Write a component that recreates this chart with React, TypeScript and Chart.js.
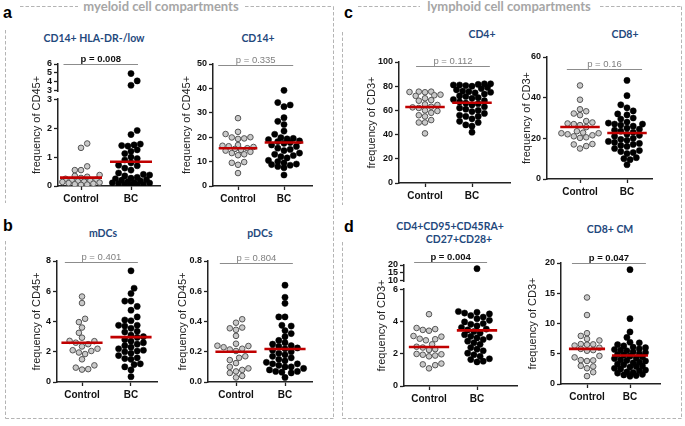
import React, { useEffect, useRef } from "react";
import { Chart, registerables } from "chart.js";
Chart.register(...registerables);

// ---------------- data ----------------
const groups = ["Control", "BC"];

// a: CD14+ HLA-DR-/low (frequency of CD45+)
const hlaControl = [1.47, 1.32, 0.68, 0.55, 0.55, 0.38, 0.35, 0.32, 0.28, 0.25, 0.22, 0.2, 0.18, 0.16, 0.15, 0.14, 0.12, 0.1, 0.08, 0.06, 0.05, 0.04];
const hlaBC = [4.9, 4.05, 3.55, 1.92, 1.78, 1.45, 1.42, 1.4, 1.38, 1.25, 1.2, 1.12, 1.0, 0.95, 0.9, 0.8, 0.72, 0.7, 0.62, 0.55, 0.45, 0.4, 0.38, 0.35, 0.3, 0.27, 0.25, 0.22, 0.2, 0.18, 0.15, 0.13, 0.11, 0.1, 0.08, 0.06, 0.05, 0.04, 0.03];
const hlaMeans = [0.29, 0.84];
const hlaTicksLow = [0, 1, 2, 3];
const hlaTicksUp = [3, 4, 5, 6];

// a: CD14+
const cd14Control = [27.8, 22.2, 21.3, 20.0, 19.9, 19.5, 19.3, 16.8, 16.5, 16.3, 16.0, 15.5, 15.2, 14.8, 14.5, 14.0, 13.5, 13.0, 12.6, 9.8, 9.5, 8.7, 5.3];
const cd14BC = [39.2, 34.2, 33.2, 32.5, 28.0, 26.5, 25.2, 22.5, 21.2, 19.8, 19.5, 19.3, 19.0, 18.5, 18.2, 17.8, 17.5, 16.8, 16.2, 15.5, 15.0, 14.5, 13.5, 13.0, 12.5, 12.0, 11.5, 10.5, 10.0, 9.5, 9.0, 8.8, 8.5, 8.0, 7.5, 4.5];
const cd14Means = [15.5, 17.8];
const cd14Ticks = [0, 10, 20, 30, 40, 50];

// c: CD4+ (frequency of CD3+)
const cd4Control = [75.5, 75.5, 75.2, 75, 73, 72.5, 72, 70, 68.5, 68, 65, 64.5, 63, 62.5, 62, 60, 59.5, 58, 56, 55, 52, 50, 50, 41];
const cd4BC = [82, 82, 81.5, 81, 81, 80.5, 80, 79, 78, 77, 76, 75.5, 75, 74.5, 73.5, 72, 71.5, 70.5, 70, 69, 68, 67, 66, 65.5, 64.5, 63, 62, 61, 60, 59, 57.5, 56, 55, 55, 53, 51, 50, 48, 47, 42];
const cd4Means = [62.8, 66.3];
const cd4Ticks = [0, 20, 40, 60, 80, 100];

// c: CD8+
const cd8Control = [46, 39, 34.3, 33.3, 32.2, 31.4, 28.5, 27.8, 27.3, 27, 26.5, 25.5, 23.5, 22.8, 22.5, 22.5, 22, 21.5, 21, 20.5, 20.2, 17.2, 17, 16.2, 15];
const cd8BC = [48.5, 41, 36.5, 35, 33.5, 32, 31.5, 30, 29.5, 28, 27.5, 27, 27, 26.5, 26, 25, 24.5, 24, 23.5, 23, 22, 21.5, 21, 20, 19.5, 19, 18.5, 18, 17.5, 17, 16.5, 16, 15, 14, 13.5, 13, 12.5, 10.5, 10, 9.5, 7];
const cd8Means = [25.6, 22.6];
const cd8Ticks = [0, 20, 40, 60];

// b: mDCs
const mdcControl = [5.65, 5.22, 4.18, 3.96, 3.6, 3.25, 2.93, 2.72, 2.7, 2.6, 2.5, 2.35, 2.2, 2.1, 2.05, 1.95, 1.85, 1.5, 1.1, 0.95, 0.85, 0.82];
const mdcBC = [7.35, 6.2, 5.85, 5.35, 5.35, 5.0, 4.75, 4.3, 4.1, 4.05, 3.75, 3.75, 3.7, 3.55, 3.35, 3.3, 3.1, 3.0, 2.95, 2.8, 2.7, 2.6, 2.5, 2.4, 2.3, 2.2, 2.1, 2.05, 2.0, 1.9, 1.75, 1.6, 1.55, 1.5, 1.2, 1.15, 1.0, 0.8, 0.35];
const mdcMeans = [2.6, 2.97];
const mdcTicks = [0, 2, 4, 6, 8];

// b: pDCs
const pdcControl = [0.415, 0.392, 0.36, 0.355, 0.345, 0.305, 0.253, 0.24, 0.238, 0.23, 0.22, 0.215, 0.205, 0.17, 0.16, 0.145, 0.125, 0.1, 0.09, 0.08, 0.07, 0.06, 0.04, 0.03];
const pdcBC = [0.64, 0.56, 0.52, 0.43, 0.43, 0.375, 0.37, 0.34, 0.32, 0.3, 0.275, 0.26, 0.25, 0.24, 0.235, 0.225, 0.22, 0.21, 0.2, 0.19, 0.18, 0.17, 0.16, 0.15, 0.14, 0.13, 0.12, 0.12, 0.11, 0.1, 0.1, 0.09, 0.08, 0.07, 0.07, 0.065, 0.06, 0.03];
const pdcMeans = [0.2, 0.218];
const pdcTicks = [0, 0.2, 0.4, 0.6, 0.8];

// d: CD4+CD95+CD45RA+CD27+CD28+
const scmControl = [4.48, 3.62, 3.55, 3.5, 3.45, 3.12, 3.08, 2.95, 2.92, 2.85, 2.6, 2.45, 2.4, 2.3, 2.25, 2.0, 1.98, 1.95, 1.9, 1.85, 1.4, 1.35, 1.3, 1.1];
const scmBC = [17.6, 4.65, 4.6, 4.55, 4.5, 4.4, 4.3, 4.2, 4.1, 4.0, 3.9, 3.85, 3.75, 3.65, 3.55, 3.5, 3.4, 3.3, 3.2, 3.1, 3.05, 3.0, 2.9, 2.8, 2.7, 2.6, 2.4, 2.3, 2.2, 2.05, 1.95, 1.85, 1.7, 1.65, 1.55, 1.5];
const scmMeans = [2.43, 3.47];
const scmTicksLow = [0, 2, 4, 6];
const scmTicksUp = [10, 15, 20];

// d: CD8+ CM
const cmControl = [14.3, 11.4, 8.4, 7.95, 7.45, 7.2, 6.6, 6.55, 6.5, 6.35, 6.0, 5.8, 5.6, 5.5, 4.65, 4.4, 3.95, 3.9, 3.8, 3.0, 2.9, 2.6, 1.95, 1.3];
const cmBC = [18.9, 10.8, 8.6, 7.7, 6.9, 6.8, 6.5, 6.3, 6.1, 6.0, 5.8, 5.7, 5.6, 5.5, 5.3, 5.2, 5.0, 4.9, 4.8, 4.6, 4.5, 4.3, 4.2, 4.0, 3.9, 3.8, 3.6, 3.5, 3.3, 3.2, 3.0, 2.9, 2.8, 2.6, 2.5, 2.3, 2.2, 2.0, 1.9, 1.8, 1.6, 1.5, 1.4, 1.3];
const cmMeans = [5.8, 4.7];
const cmTicks = [0, 5, 10, 15, 20];

const pValues = ["p = 0.008", "p = 0.335", "p = 0.112", "p = 0.16", "p = 0.401", "p = 0.804", "p = 0.004", "p = 0.047"];

// ---------------- styles / layout ----------------
const ARIAL = '"Liberation Sans", Arial, sans-serif';
const TITLE_FONT = 'Lato, "Open Sans", sans-serif';
const BLUE = "#1f497d";
const FRAME = "#b4b4b4";

type Brk = { lowMax: number; upMin: number; upStart: number; upScale: number };
type Spec = {
  control: number[]; bc: number[]; means: number[]; p: string; sig: boolean;
  yLabel: string; ticksLow: number[]; ticksUp?: number[]; brk?: Brk; yMaxVal: number;
  pLevel: number; pX: [number, number]; decimals?: number;
  L: { titleX: number; axisX: number; xEnd: number; top: number; bottom: number; cat1: number; cat2: number };
};

const PANELS: Spec[] = [
  { control: hlaControl, bc: hlaBC, means: hlaMeans, p: pValues[0], sig: true, yLabel: "frequency of CD45+",
    ticksLow: hlaTicksLow, ticksUp: hlaTicksUp, brk: { lowMax: 3, upMin: 3, upStart: 3.32, upScale: 0.3 }, yMaxVal: 6,
    pLevel: 6, pX: [0.65, 2.14],
    L: { titleX: 37, axisX: 58, xEnd: 160, top: 64, bottom: 186, cat1: 81, cat2: 131 } },
  { control: cd14Control, bc: cd14BC, means: cd14Means, p: pValues[1], sig: false, yLabel: "frequency of CD45+",
    ticksLow: cd14Ticks, yMaxVal: 50, pLevel: 49.4, pX: [0.57, 2.2],
    L: { titleX: 187, axisX: 213, xEnd: 312, top: 64, bottom: 186, cat1: 238, cat2: 284 } },
  { control: cd4Control, bc: cd4BC, means: cd4Means, p: pValues[2], sig: false, yLabel: "frequency of CD3+",
    ticksLow: cd4Ticks, yMaxVal: 100, pLevel: 96.5, pX: [0.81, 2.38],
    L: { titleX: 372, axisX: 399, xEnd: 510, top: 62, bottom: 183, cat1: 425, cat2: 472 } },
  { control: cd8Control, bc: cd8BC, means: cd8Means, p: pValues[3], sig: false, yLabel: "frequency of CD3+",
    ticksLow: cd8Ticks, yMaxVal: 60, pLevel: 54.3, pX: [0.72, 2.32],
    L: { titleX: 527, axisX: 547, xEnd: 652, top: 57, bottom: 179, cat1: 580, cat2: 627 } },
  { control: mdcControl, bc: mdcBC, means: mdcMeans, p: pValues[4], sig: false, yLabel: "frequency of CD45+",
    ticksLow: mdcTicks, yMaxVal: 8, pLevel: 7.93, pX: [0.65, 2.14],
    L: { titleX: 37, axisX: 57, xEnd: 157, top: 261, bottom: 382, cat1: 82, cat2: 131 } },
  { control: pdcControl, bc: pdcBC, means: pdcMeans, p: pValues[5], sig: false, yLabel: "frequency of CD45+",
    ticksLow: pdcTicks, yMaxVal: 0.8, pLevel: 0.79, pX: [0.67, 2.16], decimals: 1,
    L: { titleX: 183, axisX: 208, xEnd: 312, top: 261, bottom: 382, cat1: 236, cat2: 285 } },
  { control: scmControl, bc: scmBC, means: scmMeans, p: pValues[6], sig: true, yLabel: "frequency of CD3+",
    ticksLow: scmTicksLow, ticksUp: scmTicksUp, brk: { lowMax: 6, upMin: 10, upStart: 6.585, upScale: 0.0965 }, yMaxVal: 20,
    pLevel: 21.9, pX: [0.69, 2.21],
    L: { titleX: 382, axisX: 404, xEnd: 517, top: 265, bottom: 386, cat1: 429, cat2: 477 } },
  { control: cmControl, bc: cmBC, means: cmMeans, p: pValues[7], sig: true, yLabel: "frequency of CD3+",
    ticksLow: cmTicks, yMaxVal: 20, pLevel: 20, pX: [0.65, 2.37],
    L: { titleX: 533, axisX: 561, xEnd: 660, top: 263, bottom: 384, cat1: 587, cat2: 630 } },
];

function dispLow(v: number, b?: Brk) {
  if (b && v > b.lowMax) return b.upStart + (v - b.upMin) * b.upScale;
  return v;
}
function dispUp(v: number, b?: Brk) {
  return b ? b.upStart + (v - b.upMin) * b.upScale : v;
}

// simple beeswarm: offsets (px) so that dots of diameter D do not overlap, limited to +-maxOff
function swarm(ys: number[], D: number, maxOff: number): number[] {
  const idx = ys.map((_, i) => i).sort((a, b) => ys[b] - ys[a]);
  const placed: { x: number; y: number }[] = [];
  const out = new Array(ys.length).fill(0);
  const step = D * 0.5;
  idx.forEach((i, n) => {
    const y = ys[i];
    const sgn = n % 2 ? 1 : -1;
    const cands: number[] = [0];
    for (let k = 1; k * step <= maxOff; k++) cands.push(sgn * k * step, -sgn * k * step);
    let best = 0, bestD = -1;
    for (const off of cands) {
      let md = Infinity;
      for (const p of placed) md = Math.min(md, (p.x - off) ** 2 + (p.y - y) ** 2);
      if (md >= D * D * 0.85) { best = off; break; }
      if (md > bestD) { bestD = md; best = off; }
    }
    out[i] = best;
    placed.push({ x: best, y });
  });
  return out;
}

const bracketPlugin = {
  id: "bracket",
  afterDraw(chart: any, _a: any, o: any) {
    const { ctx } = chart;
    const x = chart.scales.x, y = chart.scales.y;
    const yy = Math.round(y.getPixelForValue(o.level)) + 0.5;
    const x0 = x.getPixelForValue(o.x0), x1 = x.getPixelForValue(o.x1);
    ctx.save();
    ctx.strokeStyle = "#8c8c8c";
    ctx.lineWidth = 1.2;
    ctx.beginPath();
    ctx.moveTo(x0, yy);
    ctx.lineTo(x1, yy);
    ctx.stroke();
    ctx.font = o.sig ? `bold 9.5px ${ARIAL}` : `9.5px ${ARIAL}`;
    ctx.fillStyle = o.sig ? "#111" : "#7f7f7f";
    ctx.textAlign = "center";
    ctx.textBaseline = "alphabetic";
    ctx.fillText(o.text, (x0 + x1) / 2, yy - 2.5);
    ctx.restore();
  },
};

const breakPlugin = {
  id: "axisBreak",
  afterDraw(chart: any, _a: any, o: any) {
    if (!o || !o.on) return;
    const y = chart.scales.y;
    const a = y.getPixelForValue(o.lowTop);
    const b = y.getPixelForValue(o.upBottom);
    const x = chart.chartArea.left;
    chart.ctx.clearRect(x - 2, b + 1.5, 4, a - b - 3);
  },
};

function Panel({ spec }: { spec: Spec }) {
  const ref = useRef<HTMLCanvasElement>(null);
  const L = spec.L;
  const left = Math.round(L.titleX - 6.6);
  const yW = L.axisX - left;
  const padTop = 28;
  const top = L.top - padTop;
  const xH = 24;
  const height = L.bottom + xH - top;
  const padRight = 6;
  const width = L.xEnd + padRight - left;

  useEffect(() => {
    const b = spec.brk;
    const u = L.cat2 - L.cat1;
    const xMin = 1 - (L.cat1 - L.axisX) / u;
    const xMax = 2 + (L.xEnd - L.cat2) / u;
    const tickVals = [...spec.ticksLow.map((v) => v), ...(spec.ticksUp || []).map((v) => dispUp(v, b))];
    const tickLabels = [...spec.ticksLow, ...(spec.ticksUp || [])].map((v) =>
      spec.decimals ? v.toFixed(spec.decimals) : String(v)
    );
    const yMax = b ? dispUp(spec.yMaxVal, b) : spec.yMaxVal;
    const half = 0.42;
    const axisStyle = {
      grid: { drawOnChartArea: false, drawTicks: true, tickLength: 4, color: "#222", tickWidth: 1.3 },
      border: { color: "#222", width: 1.5 },
    };
    const chart = new Chart(ref.current as HTMLCanvasElement, {
      type: "scatter",
      data: {
        datasets: [
          { data: [{ x: 1 - half, y: dispLow(spec.means[0], b) }, { x: 1 + half, y: dispLow(spec.means[0], b) }],
            showLine: true, borderColor: "#c00000", borderWidth: 2.6, pointRadius: 0, order: 0 },
          { data: [{ x: 2 - half, y: dispLow(spec.means[1], b) }, { x: 2 + half, y: dispLow(spec.means[1], b) }],
            showLine: true, borderColor: "#c00000", borderWidth: 2.6, pointRadius: 0, order: 0 },
          { data: spec.control.map((v) => ({ x: 1, y: dispLow(v, b) })), pointRadius: 2.8, borderWidth: 1,
            backgroundColor: "#c9c9c9", borderColor: "#555", order: 1 },
          { data: spec.bc.map((v) => ({ x: 2, y: dispLow(v, b) })), pointRadius: 3.1, borderWidth: 0.5,
            backgroundColor: "#000", borderColor: "#000", order: 1 },
        ],
      } as any,
      options: {
        responsive: false,
        animation: false,
        events: [],
        layout: { padding: { top: padTop, right: padRight, left: 0, bottom: 0 } },
        scales: {
          x: {
            type: "linear", min: xMin, max: xMax,
            afterFit: (s: any) => { s.height = xH; },
            afterBuildTicks: (s: any) => { s.ticks = [{ value: 1 }, { value: 2 }]; },
            ticks: { autoSkip: false, maxRotation: 0, padding: 3, color: "#111",
              font: { family: ARIAL, size: 10, weight: "bold" }, callback: (_v: any, i: number) => groups[i] },
            ...axisStyle,
          },
          y: {
            type: "linear", min: 0, max: yMax,
            afterFit: (s: any) => { s.width = yW; },
            afterBuildTicks: (s: any) => { s.ticks = tickVals.map((v) => ({ value: v })); },
            ticks: { autoSkip: false, padding: 2, color: "#111",
              font: { family: ARIAL, size: 9, weight: "bold" }, callback: (_v: any, i: number) => tickLabels[i] },
            title: { display: true, text: spec.yLabel, color: "#222", padding: { top: 0, bottom: 0 },
              font: { family: ARIAL, size: 11, lineHeight: 1.2 } },
            ...axisStyle,
          },
        },
        plugins: {
          legend: { display: false },
          tooltip: { enabled: false },
          bracket: { level: dispLow(spec.pLevel, b), x0: spec.pX[0], x1: spec.pX[1], text: spec.p, sig: spec.sig },
          axisBreak: b ? { on: true, lowTop: b.lowMax, upBottom: b.upStart } : { on: false },
        } as any,
      } as any,
      plugins: [bracketPlugin, breakPlugin],
    });

    // beeswarm layout of the points, computed through the chart's own scales
    const xs = chart.scales.x, ys = chart.scales.y;
    const ppu = xs.getPixelForValue(2) - xs.getPixelForValue(1);
    [spec.control, spec.bc].forEach((vals, g) => {
      const py = vals.map((v) => ys.getPixelForValue(dispLow(v, b)));
      const offs = swarm(py, 6.2, ppu * 0.4);
      (chart.data.datasets[g + 2] as any).data = vals.map((v, i) => ({ x: g + 1 + offs[i] / ppu, y: dispLow(v, b) }));
    });
    chart.update("none");
    return () => chart.destroy();
  }, []);

  return (
    <canvas ref={ref} width={width} height={height}
      style={{ position: "absolute", left, top, width, height }} />
  );
}

const frameSegs: [number, number, number, number][] = [
  [20, 6.5, 78, 6.5], [245, 6.5, 333.5, 6.5], [333.5, 6.5, 333.5, 418.5], [5.5, 418.5, 333.5, 418.5],
  [5.5, 30, 5.5, 203], [5.5, 241, 5.5, 418.5],
  [358, 6.5, 420, 6.5], [600, 6.5, 681.5, 6.5], [681.5, 6.5, 681.5, 418.5], [342.5, 418.5, 681.5, 418.5],
  [342.5, 32, 342.5, 205], [342.5, 242, 342.5, 418.5],
];

const panelTitles: [string, number, number][] = [
  ["CD14+ HLA-DR-/low", 94, 41.5], ["CD14+", 258, 41.5], ["CD4+", 482, 38], ["CD8+", 625, 38],
  ["mDCs", 103, 236.5], ["pDCs", 260, 236.5], ["CD4+CD95+CD45RA+", 450, 229.5], ["CD27+CD28+", 459, 243],
  ["CD8+ CM", 610, 233],
];

export default function App() {
  return (
    <div style={{ position: "fixed", left: 0, top: 0, width: 685, height: 426, background: "#fff", overflow: "hidden" }}>
      <svg width={685} height={426} style={{ position: "absolute", left: 0, top: 0 }}>
        {frameSegs.map((s, i) => (
          <line key={i} x1={s[0]} y1={s[1]} x2={s[2]} y2={s[3]} stroke={FRAME} strokeWidth={1} strokeDasharray="3.5 2" />
        ))}
        <text x={161} y={11} textAnchor="middle" fontFamily={TITLE_FONT} fontWeight="bold" fontSize={13} fill="#a6a6a6">myeloid cell compartments</text>
        <text x={509} y={11} textAnchor="middle" fontFamily={TITLE_FONT} fontWeight="bold" fontSize={13} fill="#a6a6a6">lymphoid cell compartments</text>
        {[["a", 3, 17.5], ["b", 3, 231], ["c", 344, 18], ["d", 344, 231.5]].map(([t, x, y]) => (
          <text key={t as string} x={x as number} y={y as number} fontFamily={ARIAL} fontWeight="bold" fontSize={16} fill="#000">{t}</text>
        ))}
        {panelTitles.map(([t, x, y]) => (
          <text key={t} x={x} y={y} textAnchor="middle" fontFamily={TITLE_FONT} fontWeight="bold" fontSize={10.5} fill={BLUE}>{t}</text>
        ))}
      </svg>
      {PANELS.map((p, i) => <Panel key={i} spec={p} />)}
    </div>
  );
}
